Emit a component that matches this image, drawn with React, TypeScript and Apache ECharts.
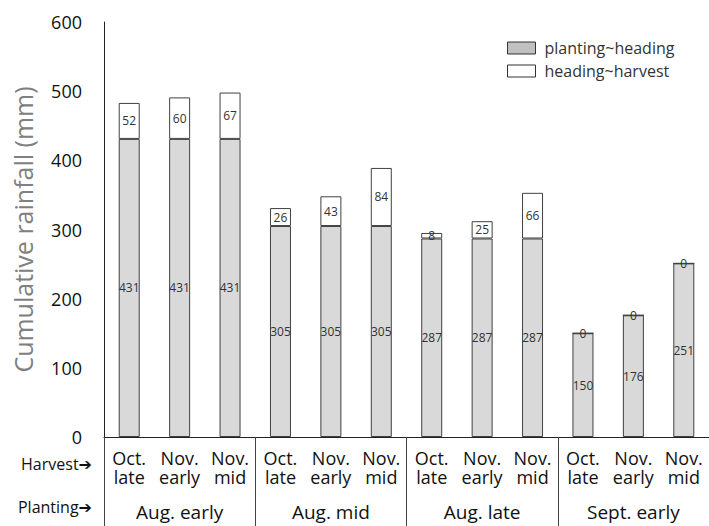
import React, { useEffect, useRef } from "react";
import * as echarts from "echarts";

const harvestLabels = [
  "Oct.\nlate", "Nov.\nearly", "Nov.\nmid",
  "Oct.\nlate", "Nov.\nearly", "Nov.\nmid",
  "Oct.\nlate", "Nov.\nearly", "Nov.\nmid",
  "Oct.\nlate", "Nov.\nearly", "Nov.\nmid",
];
const plantingLabels = ["Aug. early", "Aug. mid", "Aug. late", "Sept. early"];
const plantingToHeading = [431, 431, 431, 305, 305, 305, 287, 287, 287, 150, 176, 251];
const headingToHarvest = [52, 60, 67, 26, 43, 84, 8, 25, 66, 0, 0, 0];
const seriesNames = ["planting~heading", "heading~harvest"];

const FONT = "'Open Sans', 'DejaVu Sans', sans-serif";

export default function App() {
  const ref = useRef<HTMLDivElement>(null);
  useEffect(() => {
    if (!ref.current) return;
    const chart = echarts.init(ref.current, null, { renderer: "svg" });
    const labelStyle = { show: true, position: "inside" as const, fontSize: 12, color: "#333", fontFamily: FONT };
    chart.setOption({
      animation: false,
      backgroundColor: "#ffffff",
      textStyle: { fontFamily: FONT },
      grid: { left: 104, top: 22, width: 606, height: 415, containLabel: false },
      legend: {
        orient: "vertical",
        left: 502,
        top: 35,
        itemWidth: 28,
        itemHeight: 12,
        itemGap: 7,
        icon: "rect",
        textStyle: { fontSize: 16, color: "#333", fontFamily: FONT, lineHeight: 16, padding: [0, 0, 0, 4] },
        data: [
          { name: seriesNames[0], itemStyle: { color: "#c0c0c0", borderColor: "#333", borderWidth: 1 } },
          { name: seriesNames[1], itemStyle: { color: "#ffffff", borderColor: "#333", borderWidth: 1 } },
        ],
      },
      xAxis: [
        {
          type: "category",
          data: harvestLabels,
          position: "bottom",
          axisLine: { show: true, lineStyle: { color: "#222", width: 1 } },
          axisTick: { show: false },
          axisLabel: { interval: 0, fontSize: 18, lineHeight: 19, color: "#111", margin: 11, fontFamily: FONT },
        },
        {
          type: "category",
          data: plantingLabels,
          position: "bottom",
          axisLine: { show: false },
          axisTick: { show: true, length: 89, inside: false, lineStyle: { color: "#444", width: 1 } },
          axisLabel: { interval: 0, fontSize: 19, lineHeight: 18, color: "#111", margin: 66, fontFamily: FONT },
        },
      ],
      yAxis: {
        type: "value",
        min: 0,
        max: 600,
        interval: 100,
        name: "Cumulative rainfall (mm)",
        nameLocation: "middle",
        nameRotate: 90,
        nameGap: 69,
        nameTextStyle: { fontSize: 25, color: "#808080", fontFamily: FONT },
        axisLine: { show: true, lineStyle: { color: "#222", width: 1 } },
        axisTick: { show: false },
        splitLine: { show: false },
        axisLabel: { fontSize: 18, color: "#111", margin: 22, fontFamily: FONT },
      },
      graphic: [
        { type: "text", right: 617, top: 456, style: { text: "Harvest➔", fontSize: 16, fill: "#111", fontFamily: FONT } },
        { type: "text", right: 617, top: 499, style: { text: "Planting➔", fontSize: 16, fill: "#111", fontFamily: FONT } },
      ],
      series: [
        {
          name: seriesNames[0],
          type: "bar",
          stack: "total",
          xAxisIndex: 0,
          barWidth: 21,
          data: plantingToHeading,
          itemStyle: { color: "#d9d9d9", borderColor: "#404040", borderWidth: 1 },
          label: labelStyle,
        },
        {
          name: seriesNames[1],
          type: "bar",
          stack: "total",
          xAxisIndex: 0,
          barWidth: 21,
          data: headingToHarvest,
          itemStyle: { color: "#ffffff", borderColor: "#404040", borderWidth: 1 },
          label: labelStyle,
        },
      ],
    });
    return () => chart.dispose();
  }, []);
  return <div ref={ref} style={{ position: "fixed", left: 0, top: 0, width: 709, height: 526, background: "#fff" }} />;
}
